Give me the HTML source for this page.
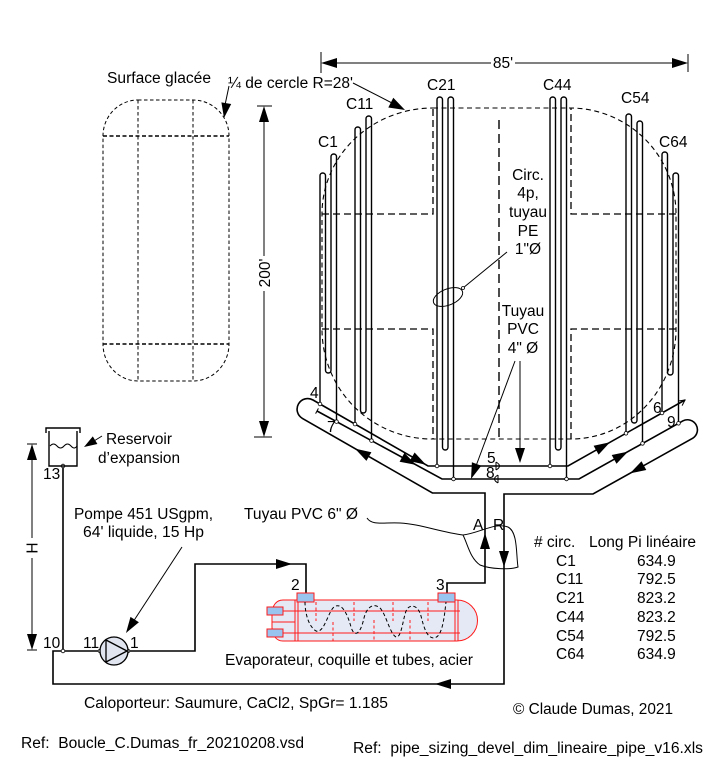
<!DOCTYPE html>
<html><head><meta charset="utf-8">
<style>
html,body{margin:0;padding:0;background:#fff}
svg{display:block}
text{font-family:"Liberation Sans",Arial,sans-serif;font-size:15.5px;fill:#000}
</style></head>
<body>
<svg width="724" height="772" viewBox="0 0 724 772" xmlns="http://www.w3.org/2000/svg">
<rect width="724" height="772" fill="#fff"/>

<!-- Left small ice surface -->
<g fill="none" stroke="#000">
  <path d="M138,100 L193,100 A36,36 0 0 1 229,136 L229,344 A36,37 0 0 1 193,381 L138,381 A35,37 0 0 1 103,344 L103,136 A35,36 0 0 1 138,100 Z" stroke-width="1" stroke-dasharray="3.5 2.5"/>
  <line x1="138" y1="100" x2="138" y2="381" stroke-width="1" stroke-dasharray="3.5 2.5"/>
  <line x1="193" y1="100" x2="193" y2="381" stroke-width="1" stroke-dasharray="3.5 2.5"/>
  <line x1="103" y1="136" x2="229" y2="136" stroke-width="1.6" stroke-dasharray="4 2.5"/>
  <line x1="103" y1="344" x2="229" y2="344" stroke-width="1.6" stroke-dasharray="4 2.5"/>
</g>
<text x="107" y="83" textLength="104" lengthAdjust="spacingAndGlyphs">Surface glacée</text>
<text x="228" y="88" textLength="125" lengthAdjust="spacingAndGlyphs">¼ de cercle R=28'</text>
<line x1="229" y1="86" x2="225" y2="105" stroke="#000" stroke-width="1"/>
<polygon points="224,118 221.4,102.4 231.2,104" fill="#000"/>
<line x1="353" y1="83" x2="392" y2="103" stroke="#000" stroke-width="1"/>
<polygon points="405,110 388.3,107.5 393.3,97.7" fill="#000"/>

<!-- 200' dimension -->
<g stroke="#000" stroke-width="1">
  <line x1="264" y1="120" x2="264" y2="424"/>
  <line x1="257" y1="106" x2="272" y2="106"/>
  <line x1="254" y1="437" x2="272" y2="437"/>
</g>
<polygon points="264,106 259,122 269,122" fill="#000"/>
<polygon points="264,437 259,421 269,421" fill="#000"/>
<rect x="256" y="256" width="16" height="35" fill="#fff"/>
<text transform="translate(270,273) rotate(-90)" text-anchor="middle">200'</text>

<!-- 85' dimension -->
<g stroke="#000" stroke-width="1">
  <line x1="335" y1="63" x2="674" y2="63"/>
  <line x1="321" y1="52" x2="321" y2="73"/>
  <line x1="688" y1="54" x2="688" y2="72"/>
</g>
<polygon points="321,63 337,58 337,68" fill="#000"/>
<polygon points="688,63 672,58 672,68" fill="#000"/>
<rect x="491" y="54" width="24" height="18" fill="#fff"/>
<text x="503" y="68" text-anchor="middle">85'</text>

<!-- Rink dashed outline -->
<g fill="none" stroke="#000" stroke-width="1.1">
  <path d="M433,108 L570,108 A106,106 0 0 1 676,214 L676,329 A105,110 0 0 1 571,439 L432,439 A110,110 0 0 1 322,329 L322,214 A111,106 0 0 1 433,108 Z" stroke-dasharray="5 3.5"/>
  <path d="M322,214 L433,214 L433,108 M322,329 L433,329 L433,439 M676,214 L571,214 L571,108 M676,329 L571,329 L571,439" stroke-width="1.3" stroke-dasharray="7 4"/>
  <line x1="499" y1="120" x2="499" y2="437" stroke-width="1.4" stroke-dasharray="9 5"/>
</g>

<!-- Circuits (serpentine tubes) -->
<g fill="none" stroke="#000" stroke-width="1.4">
  <path d="M320,404 L320,175.75 A2.75,2.75 0 0 1 325.5,175.75 L325.5,370.25 A2.75,2.75 0 0 0 331,370.25 L331,156.75 A2.75,2.75 0 0 1 336.5,156.75 L336.5,421.6"/>
  <path d="M355,424.1 L355,129.75 A2.75,2.75 0 0 1 360.5,129.75 L360.5,410.25 A2.75,2.75 0 0 0 366,410.25 L366,118.75 A2.75,2.75 0 0 1 371.5,118.75 L371.5,440.6"/>
  <path d="M437,466 L437,99.75 A2.75,2.75 0 0 1 442.5,99.75 L442.5,447.25 A2.75,2.75 0 0 0 448,447.25 L448,99.75 A2.75,2.75 0 0 1 453.5,99.75 L453.5,479"/>
  <path d="M550,466 L550,99.75 A2.75,2.75 0 0 1 555.5,99.75 L555.5,447.25 A2.75,2.75 0 0 0 561,447.25 L561,99.75 A2.75,2.75 0 0 1 566.5,99.75 L566.5,479"/>
  <path d="M626,433.3 L626,116.75 A2.75,2.75 0 0 1 631.5,116.75 L631.5,420.25 A2.75,2.75 0 0 0 637,420.25 L637,123.75 A2.75,2.75 0 0 1 642.5,123.75 L642.5,443.4"/>
  <path d="M662,413 L662,154.75 A2.75,2.75 0 0 1 667.5,154.75 L667.5,372.25 A2.75,2.75 0 0 0 673,372.25 L673,175.75 A2.75,2.75 0 0 1 678.5,175.75 L678.5,423.3"/>
</g>
<text x="318" y="147">C1</text>
<text x="346" y="109">C11</text>
<text x="427" y="90">C21</text>
<text x="543" y="90">C44</text>
<text x="621" y="103">C54</text>
<text x="659" y="147">C64</text>

<!-- Circ. label -->
<g text-anchor="middle">
  <text x="528" y="180">Circ.</text>
  <text x="528" y="198">4p,</text>
  <text x="528" y="217">tuyau</text>
  <text x="528" y="236">PE</text>
  <text x="528" y="254">1"Ø</text>
</g>
<line x1="507" y1="252" x2="463" y2="288" stroke="#000" stroke-width="1"/>
<ellipse cx="448" cy="297" rx="15.5" ry="8" transform="rotate(-22 448 297)" fill="none" stroke="#000" stroke-width="1"/>

<!-- Tuyau PVC 4" -->
<g text-anchor="middle">
  <text x="523" y="316">Tuyau</text>
  <text x="523" y="334">PVC</text>
  <text x="523" y="353">4" Ø</text>
</g>
<line x1="520" y1="361" x2="520" y2="450" stroke="#000" stroke-width="1"/>
<polygon points="520,463 515,448 525,448" fill="#000"/>
<line x1="515" y1="361" x2="476" y2="466" stroke="#000" stroke-width="1"/>
<polygon points="471,479 471.9,462.3 481.3,465.7" fill="#000"/>

<!-- Main 6" pipe / manifolds -->
<g fill="none" stroke="#000" stroke-width="1.6">
  <path d="M685,400 L568,466 L428,466 L313,400 A10.6,10.6 0 0 0 302.4,418.4 L432.4,493 L485,493 L485,583 L447,583 L447,593"/>
  <path d="M317,411 L442,479 L579,479 L683,420.8 A10,10 0 0 1 692.8,438.2 L593,494 L504,494 L504,684 L53,684 L53,651 L100,651"/>
  <path d="M128,651 L195,651 L195,564 L306,564 L306,593"/>
  <path d="M63,466 L63,651"/>
</g>
<g fill="none" stroke="#000" stroke-width="1">
  <line x1="315.6" y1="413.6" x2="318.4" y2="408.4"/>
  <polyline points="679.1,400.9 685,400 682.1,405.6"/>
  <path d="M496,462 L496,470 M496,462 Q503,466 496,470"/>
  <path d="M498,475 L498,483 M498,475 Q491,479 498,483"/>
</g>

<!-- flow arrowheads -->
<g fill="#000">
  <polygon points="426,464.8 409.6,461.1 414.6,452.5"/>
  <polygon points="416,464.9 399.6,461.7 404.4,452.9"/>
  <polygon points="355,448.6 371.4,452.3 366.4,460.9"/>
  <polygon points="610,442.3 598.6,454.6 593.6,445.8"/>
  <polygon points="628,451.6 616.5,463.8 611.7,455"/>
  <polygon points="630,473.4 641.5,461.2 646.3,470"/>
  <polygon points="485,533 480,549 490,549"/>
  <polygon points="504,567 499,551 509,551"/>
  <polygon points="292,564 276,559 276,569"/>
  <polygon points="435,684 451,679 451,689"/>
</g>

<!-- connection dots -->
<g fill="#fff" stroke="#000" stroke-width="0.8">
  <circle cx="320" cy="404" r="1.8"/>
  <circle cx="336.5" cy="421.6" r="1.8"/>
  <circle cx="355" cy="424.1" r="1.8"/>
  <circle cx="371.5" cy="440.6" r="1.8"/>
  <circle cx="437" cy="466" r="1.8"/>
  <circle cx="453.5" cy="479" r="1.8"/>
  <circle cx="550" cy="466" r="1.8"/>
  <circle cx="566.5" cy="479" r="1.8"/>
  <circle cx="626" cy="433.3" r="1.8"/>
  <circle cx="642.5" cy="443.4" r="1.8"/>
  <circle cx="662" cy="413" r="1.8"/>
  <circle cx="678.5" cy="423.3" r="1.8"/>
  <circle cx="63" cy="466" r="1.8"/>
  <circle cx="63" cy="651" r="1.8"/>
  <circle cx="100" cy="651" r="1.8"/>
  <circle cx="128" cy="651" r="1.8"/>
  <circle cx="463" cy="288" r="1.5"/>
</g>

<text x="310" y="398">4</text>
<text x="327" y="432">7</text>
<text x="487" y="463">5</text>
<text x="486" y="478">8</text>
<text x="653" y="413">6</text>
<text x="667" y="427">9</text>

<!-- Tuyau PVC 6" -->
<text x="244" y="519" textLength="114" lengthAdjust="spacingAndGlyphs">Tuyau PVC 6" Ø</text>
<path d="M367,518 C372,526 385,522 400,523 C420,524 440,532 463,535 C480,533 495,522 508,527 C518,532 516,555 518,567 C510,570 490,569 480,565 C470,558 468,545 463,535" fill="none" stroke="#000" stroke-width="1"/>
<text x="473" y="530">A</text>
<text x="493" y="530">R</text>

<!-- Reservoir -->
<g fill="none" stroke="#000" stroke-width="1.4">
  <path d="M46,433 L46,428 L80,428 L80,433"/>
  <path d="M49,431 L49,466 L77,466 L77,431"/>
  <path d="M50,446 q3.5,-4 7,0 t7,0 t7,0 t6,0" stroke-width="1"/>
</g>
<line x1="102" y1="436" x2="94" y2="441" stroke="#000" stroke-width="1"/>
<polygon points="84,447 92.8,436.4 97.4,444" fill="#000"/>
<text x="106" y="444" textLength="66" lengthAdjust="spacingAndGlyphs">Reservoir</text>
<text x="98" y="463" textLength="82" lengthAdjust="spacingAndGlyphs">d’expansion</text>
<text x="43" y="479">13</text>

<!-- H dimension -->
<g stroke="#000" stroke-width="1">
  <line x1="32" y1="458" x2="32" y2="636"/>
  <line x1="27" y1="444" x2="37" y2="444"/>
  <line x1="27" y1="650" x2="37" y2="650"/>
</g>
<polygon points="32,444 27,460 37,460" fill="#000"/>
<polygon points="32,650 27,634 37,634" fill="#000"/>
<rect x="24" y="538" width="16" height="20" fill="#fff"/>
<text transform="translate(37.5,548) rotate(-90)" text-anchor="middle">H</text>

<!-- Pump -->
<text x="74" y="519" textLength="139" lengthAdjust="spacingAndGlyphs">Pompe 451 USgpm,</text>
<text x="83" y="537" textLength="121" lengthAdjust="spacingAndGlyphs">64' liquide, 15 Hp</text>
<line x1="182" y1="547" x2="133" y2="622" stroke="#000" stroke-width="1"/>
<polygon points="126,633 130.5,616.9 138.9,622.3" fill="#000"/>
<circle cx="114" cy="651" r="14" fill="#e0e5ef" stroke="#000" stroke-width="1.3"/>
<polygon points="106,640 106,662 127,651" fill="none" stroke="#000" stroke-width="1.3" stroke-linejoin="round"/>
<text x="43" y="648">10</text>
<text x="83" y="648">11</text>
<text x="130" y="648">1</text>

<!-- Evaporator -->
<g stroke="#ff1a1a" stroke-width="1">
  <path d="M283,600 L457,600 A20.5,20.5 0 0 1 457,641 L283,641 C276,641 272,635 272,627 L272,614 C272,606 276,600 283,600 Z" fill="#e4e9f5"/>
  <line x1="283" y1="611" x2="460" y2="611"/>
  <line x1="283" y1="633" x2="460" y2="633"/>
  <line x1="272" y1="622" x2="295" y2="622"/>
  <line x1="295" y1="600" x2="295" y2="641"/>
  <line x1="298" y1="600" x2="298" y2="641"/>
  <line x1="455" y1="600" x2="455" y2="641"/>
  <line x1="458" y1="600" x2="458" y2="641"/>
  <g stroke-dasharray="3 2.5">
    <line x1="316" y1="602" x2="316" y2="621"/>
    <line x1="354" y1="602" x2="354" y2="621"/>
    <line x1="393" y1="602" x2="393" y2="621"/>
    <line x1="428" y1="602" x2="428" y2="621"/>
    <line x1="333" y1="622" x2="333" y2="641"/>
    <line x1="374" y1="620" x2="374" y2="641"/>
    <line x1="410" y1="620" x2="410" y2="641"/>
  </g>
  <rect x="297" y="593" width="17" height="9" fill="#99c4f0"/>
  <rect x="438" y="593" width="17" height="9" fill="#99c4f0"/>
  <rect x="267" y="607" width="16" height="8" fill="#99c4f0"/>
  <rect x="267" y="629" width="16" height="8" fill="#99c4f0"/>
</g>
<path d="M305,602 C305,612 308,626 316,631 C324,634 328,612 334,607 C341,602 347,612 351,627 C354,637 360,636 364,618 C367,606 374,603 380,608 C386,614 390,634 396,637 C402,638 403,616 407,609 C411,604 418,605 421,616 C424,628 427,638 434,638 C442,637 444,620 446,602" fill="none" stroke="#000" stroke-width="1" stroke-dasharray="3.5 2.5"/>
<text x="291" y="590">2</text>
<text x="436" y="590">3</text>
<text x="225" y="665" textLength="248" lengthAdjust="spacingAndGlyphs">Evaporateur, coquille et tubes, acier</text>

<!-- Table -->
<text x="534" y="547"># circ.</text>
<text x="589" y="547" textLength="107" lengthAdjust="spacingAndGlyphs">Long Pi linéaire</text>
<text x="556" y="566">C1</text><text x="637" y="566">634.9</text>
<text x="556" y="584">C11</text><text x="637" y="584">792.5</text>
<text x="556" y="603">C21</text><text x="637" y="603">823.2</text>
<text x="556" y="622">C44</text><text x="637" y="622">823.2</text>
<text x="556" y="641">C54</text><text x="637" y="641">792.5</text>
<text x="556" y="659">C64</text><text x="637" y="659">634.9</text>

<text x="513" y="714" textLength="160" lengthAdjust="spacingAndGlyphs">© Claude Dumas, 2021</text>
<text x="84" y="708" textLength="304" lengthAdjust="spacingAndGlyphs">Caloporteur: Saumure, CaCl2, SpGr= 1.185</text>
<text x="21" y="748" textLength="283" lengthAdjust="spacingAndGlyphs" xml:space="preserve">Ref:  Boucle_C.Dumas_fr_20210208.vsd</text>
<text x="353" y="753" textLength="350" lengthAdjust="spacingAndGlyphs" xml:space="preserve">Ref:  pipe_sizing_devel_dim_lineaire_pipe_v16.xls</text>
</svg>
</body></html>
